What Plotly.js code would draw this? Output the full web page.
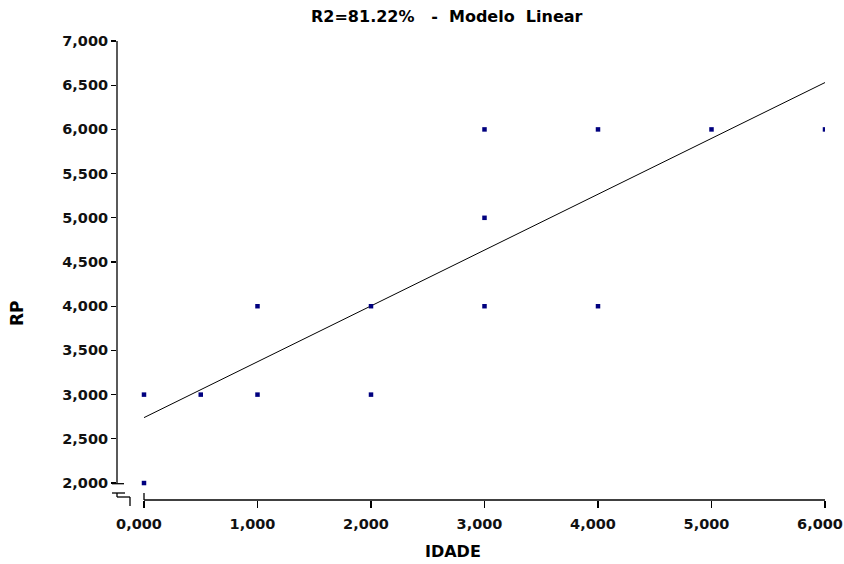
<!DOCTYPE html>
<html>
<head>
<meta charset="utf-8">
<script src="https://cdn.plot.ly/plotly-3.0.1.min.js"></script>
<style>html,body{margin:0;padding:0;background:#fff;}#chart{width:844px;height:564px;}</style>
</head>
<body>
<div id="chart"></div>
<script>
// Data
const idade = [0, 0, 0.5, 1, 1, 2, 2, 3, 3, 3, 4, 4, 5, 6];
const rp    = [2, 3, 3, 3, 4, 3, 4, 4, 5, 6, 4, 6, 6, 6];
const fitX  = [0, 6];
const fitY  = [2.74, 6.53];
const xTicks = [0, 1, 2, 3, 4, 5, 6];
const yTicks = [2, 2.5, 3, 3.5, 4, 4.5, 5, 5.5, 6, 6.5, 7];
const titleText = 'R2=81.22%\u00a0\u00a0 - \u00a0Modelo\u00a0\u00a0Linear';

const W = 844, H = 564;
const M = {l: 117, r: 19, t: 41, b: 64};
const pw = W - M.l - M.r, ph = H - M.t - M.b;
// pixel -> paper helpers for decorations (axis break)
const px = v => (v - M.l) / pw;
const py = v => (H - M.b - v) / ph;

const fontFam = 'DejaVu Sans, Verdana, sans-serif';
const tickFont = {family: fontFam, size: 14.5, color: '#111', weight: 'bold'};

const dec = (x0, y0, x1, y1) => ({type: 'line', xref: 'paper', yref: 'paper',
  x0: px(x0), y0: py(y0), x1: px(x1), y1: py(y1), line: {color: '#000', width: 1.3}});

const shapes = [
  // y axis line (from 2 to 7)
  {type: 'line', xref: 'paper', yref: 'y', x0: 0, x1: 0, y0: 2, y1: 7, line: {color: '#000', width: 1.3}},
  // x axis line (from 0 to 6)
  {type: 'line', xref: 'x', yref: 'paper', x0: 0, x1: 6, y0: 0, y1: 0, line: {color: '#000', width: 1.3}},
  // axis break decorations
  dec(112, 483.7, 124, 483.7),
  dec(112, 493, 125, 493),
  dec(117, 493, 117, 497),
  dec(117, 497, 130, 497),
  dec(130, 497, 130, 506),
  dec(144, 493, 144, 500)
];

const traces = [
  {x: fitX, y: fitY, mode: 'lines', type: 'scatter', line: {color: '#000', width: 1}, hoverinfo: 'skip'},
  {x: idade, y: rp, mode: 'markers', type: 'scatter',
   marker: {symbol: 'square', size: 4.5, color: '#00007f', line: {width: 0}}}
];

const layout = {
  width: W, height: H,
  margin: M,
  paper_bgcolor: '#fff', plot_bgcolor: '#fff',
  showlegend: false,
  separators: ',.',
  font: {family: fontFam, color: '#000'},
  xaxis: {range: [(M.l - 144) / 113.5, 6.0], showline: false, showgrid: false, zeroline: false,
    tickmode: 'array', tickvals: xTicks, tickformat: '.3f', ticks: 'outside', ticklen: 7,
    tickcolor: '#000', tickwidth: 1.3, tickfont: tickFont, ticklabelstandoff: 4,
    ticklabelshift: -5, ticklabeloverflow: 'allow', fixedrange: true},
  yaxis: {range: [1.808, 7.0], showline: false, showgrid: false, zeroline: false,
    tickmode: 'array', tickvals: yTicks, tickformat: '.3f', ticks: 'outside', ticklen: 5,
    tickcolor: '#000', tickwidth: 1.3, tickfont: tickFont, ticklabeloverflow: 'allow', fixedrange: true},
  shapes: shapes,
  annotations: [
    {text: titleText, xref: 'paper', yref: 'paper', x: px(447), y: py(17), showarrow: false,
     xanchor: 'center', yanchor: 'middle', font: {family: fontFam, size: 16, weight: 'bold', color: '#000'}},
    {text: 'IDADE', xref: 'paper', yref: 'paper', x: px(453), y: py(551), showarrow: false,
     xanchor: 'center', yanchor: 'middle', font: {family: fontFam, size: 16, weight: 'bold', color: '#000'}},
    {text: 'RP', xref: 'paper', yref: 'paper', x: px(17), y: py(313), showarrow: false, textangle: -90,
     xanchor: 'center', yanchor: 'middle', font: {family: fontFam, size: 17, weight: 'bold', color: '#000'}}
  ]
};

Plotly.newPlot('chart', traces, layout, {displayModeBar: false, staticPlot: true});
</script>
</body>
</html>
